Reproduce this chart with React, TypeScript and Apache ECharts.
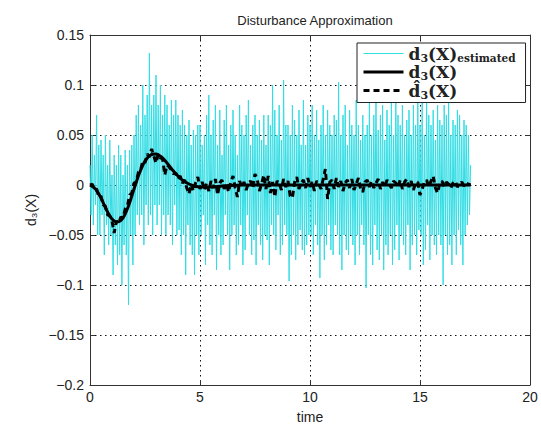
import React, { useEffect, useRef } from "react";
import * as echarts from "echarts";

// estimated disturbance, sampled every 0.05 s from 0 to 17.3 (one row = 1 s)
const estimated = [
  0.02, -0.03, 0.05, -0.04, 0.03, -0.02, 0.07, -0.05, 0.04, -0.05, 0.045, -0.03, 0.03, -0.07, 0.05, -0.04, 0.02, -0.06, 0.045, -0.05,
  0.01, -0.09, 0.03, -0.06, 0.02, -0.08, 0.04, -0.07, 0.03, -0.1, 0.01, -0.06, 0.035, -0.07, 0.02, -0.12, 0.035, -0.05, 0.04, -0.08,
  0.05, -0.05, 0.07, -0.03, 0.08, -0.04, 0.06, -0.03, 0.1, -0.06, 0.07, -0.02, 0.09, -0.04, 0.132, -0.03, 0.08, -0.05, 0.09, -0.02,
  0.11, -0.04, 0.08, -0.02, 0.1, -0.05, 0.07, -0.03, 0.09, -0.05, 0.08, -0.03, 0.06, -0.04, 0.085, -0.06, 0.07, -0.02, 0.085, -0.05,
  0.07, -0.045, 0.06, -0.07, 0.075, -0.05, 0.06, -0.09, 0.05, -0.04, 0.065, -0.06, 0.04, -0.07, 0.055, -0.09, 0.05, -0.05, 0.06, -0.07,
  0.06, -0.05, 0.04, -0.03, 0.05, -0.08, 0.07, -0.04, 0.09, -0.06, 0.05, -0.07, 0.065, -0.03, 0.08, -0.085, 0.04, -0.05, 0.075, -0.07,
  0.03, -0.06, 0.065, -0.03, 0.08, -0.05, 0.04, -0.085, 0.06, -0.05, 0.075, -0.04, 0.05, -0.07, 0.03, -0.06, 0.08, -0.04, 0.06, -0.08,
  0.05, -0.065, 0.07, -0.03, 0.085, -0.05, 0.04, -0.07, 0.06, -0.055, 0.07, -0.08, 0.05, -0.04, 0.065, -0.06, 0.045, -0.075, 0.07, -0.05,
  0.04, -0.055, 0.07, -0.08, 0.06, -0.04, 0.1, -0.05, 0.075, -0.065, 0.05, -0.03, 0.08, -0.07, 0.045, -0.06, 0.105, -0.04, 0.06, -0.05,
  0.06, -0.096, 0.05, -0.07, 0.08, -0.05, 0.065, -0.075, 0.05, -0.06, 0.075, -0.045, 0.04, -0.065, 0.085, -0.07, 0.04, -0.06, 0.07, -0.05,
  0.06, -0.05, 0.08, -0.07, 0.05, -0.04, 0.075, -0.06, 0.045, -0.093, 0.06, -0.05, 0.08, -0.075, 0.05, -0.06, 0.075, -0.04, 0.06, -0.065,
  0.05, -0.07, 0.07, -0.04, 0.065, -0.05, 0.103, -0.07, 0.05, -0.085, 0.07, -0.05, 0.08, -0.065, 0.04, -0.07, 0.075, -0.05, 0.06, -0.06,
  0.05, -0.08, 0.085, -0.05, 0.06, -0.07, 0.045, -0.04, 0.07, -0.06, 0.05, -0.103, 0.06, -0.05, 0.085, -0.07, 0.05, -0.08, 0.07, -0.04,
  0.09, -0.065, 0.055, -0.075, 0.07, -0.05, 0.08, -0.085, 0.045, -0.06, 0.075, -0.07, 0.06, -0.05, 0.085, -0.08, 0.05, -0.065, 0.09, -0.04,
  0.07, -0.075, 0.06, -0.05, 0.08, -0.06, 0.05, -0.07, 0.065, -0.04, 0.075, -0.085, 0.05, -0.06, 0.08, -0.05, 0.06, -0.07, 0.085, -0.045,
  0.06, -0.05, 0.085, -0.08, 0.05, -0.065, 0.09, -0.04, 0.07, -0.075, 0.06, -0.05, 0.075, -0.06, 0.045, -0.07, 0.08, -0.05, 0.065, -0.06,
  0.06, -0.1, 0.08, -0.05, 0.07, -0.07, 0.085, -0.06, 0.05, -0.08, 0.065, -0.05, 0.06, -0.07, 0.075, -0.045, 0.07, -0.06, 0.05, -0.08,
  0.065, -0.05, 0.06, -0.04, 0.05, -0.03, 0.02,
];
const estStep = 0.05;

// approximated disturbance, sampled every 0.1 s from 0 to 17.3
const hatValues = [
  0, 0.001, -0.004, -0.004, -0.012, -0.011, -0.02, -0.021, -0.03, -0.031,
  -0.036, -0.048, -0.036, -0.038, -0.032, -0.033, -0.024, -0.021, -0.01, -0.008,
  0.002, 0.003, 0.013, 0.015, 0.024, 0.022, 0.031, 0.028, 0.036, 0.029,
  0.022, 0.031, 0.027, 0.026, 0.01, 0.02, 0.018, 0.015, 0.011, 0.012,
  0.006, 0.009, 0.002, 0.005, -0.003, -0.009, 0.001, -0.006, 0.002, 0.008,
  -0.004, 0.003, -0.005, 0.002, -0.006, 0.004, -0.003, 0.006, -0.01, 0.002,
  0.005, -0.004, 0.001, -0.007, 0.003, 0.009, -0.003, -0.012, 0.004, -0.002,
  0.003, -0.005, 0.002, 0.004, -0.003, 0.011, 0.006, -0.006, 0.001, 0.01,
  -0.004, 0.009, -0.008, 0.003, -0.012, 0.004, 0.002, -0.005, 0.006, -0.002,
  0.004, -0.011, -0.013, 0.003, 0.008, -0.004, 0.002, 0.005, -0.003, 0.007,
  -0.002, 0.003, -0.006, 0.004, 0.001, -0.004, 0.006, 0.016, -0.014, 0.003,
  0.005, -0.004, 0.007, -0.002, 0.004, -0.006, 0.002, 0.005, -0.003, 0.006,
  -0.005, 0.001, 0.007, -0.004, -0.007, 0.003, 0.005, -0.002, 0.004, -0.003,
  0.002, 0.006, -0.004, 0.003, -0.002, 0.005, 0.001, -0.003, 0.004, 0.002,
  -0.002, 0.005, -0.004, 0.003, 0.006, -0.002, 0.004, -0.005, 0.002, 0.003,
  -0.01, -0.004, 0.003, 0.005, -0.002, 0.004, 0.009, -0.003, -0.008, 0.002,
  0.004, -0.002, 0.003, 0.001, -0.003, 0.002, 0.004, -0.002, 0.001, 0.003,
  -0.001, 0.002, 0.001, 0,
];
const hatStep = 0.1;

const trueTime = [
  0, 0.25, 0.5, 0.75, 1, 1.25, 1.5, 1.75, 2, 2.25, 2.5, 2.75, 3, 3.25, 3.5,
  3.75, 4, 4.25, 4.5, 4.75, 5, 5.5, 6, 7, 8, 10, 12, 14, 16, 17.3,
];
const trueValues = [
  0, -0.004, -0.013, -0.025, -0.034, -0.037, -0.033, -0.021, -0.004, 0.012,
  0.024, 0.03, 0.031, 0.028, 0.022, 0.015, 0.009, 0.004, 0.001, -0.001,
  -0.002, -0.002, -0.001, 0, 0, 0, 0, 0, 0, 0,
];

const xTicks = { min: 0, max: 20, interval: 5 };
const yTicks = { min: -0.2, max: 0.15, interval: 0.05 };

const FONT = "Liberation Sans";
const TEXT = "#222";
const CYAN = "#33dde4";
const SERIF = "DejaVu Serif";

export default function App() {
  const ref = useRef<HTMLDivElement>(null);
  useEffect(() => {
    if (!ref.current) return;
    const chart = echarts.init(ref.current, null, { renderer: "svg" });
    const frame = {
      axisLine: { show: true, onZero: false, lineStyle: { color: "#333", width: 1 } },
      axisTick: { show: true, inside: true, length: 5, lineStyle: { color: "#333" } },
    };
    const grid = { show: true, lineStyle: { color: "#111", width: 1, type: [1.5, 3.5] } };
    const legendNames: Record<string, string> = {
      est: "{b|d}{s|3}{b|(X)}{e|estimated}",
      true: "{b|d}{s|3}{b|(X)}",
      hat: "{b|d\u0302}{s|3}{b|(X)}",
    };
    const sub = {
      fontFamily: SERIF,
      fontWeight: "bold",
      color: TEXT,
      verticalAlign: "bottom",
      lineHeight: 11,
      padding: [6, 0, 0, 0],
    };
    chart.setOption({
      animation: false,
      backgroundColor: "#fff",
      title: {
        text: "Disturbance Approximation",
        left: 310,
        textAlign: "center",
        top: 9,
        textStyle: { fontFamily: FONT, fontSize: 13, fontWeight: "normal", color: TEXT },
      },
      grid: { left: 90, top: 35, right: 11, bottom: 42 },
      legend: {
        orient: "vertical",
        left: 357,
        top: 43,
        padding: [2, 10, 2, 5],
        itemGap: 0,
        itemWidth: 40,
        itemHeight: 16,
        backgroundColor: "#fff",
        borderColor: "#222",
        borderWidth: 1,
        borderRadius: 0,
        itemStyle: { color: "rgba(0,0,0,0)", borderWidth: 0, opacity: 0 },
        data: [
          { name: "est", lineStyle: { width: 1 } },
          { name: "true", lineStyle: { width: 3 } },
          { name: "hat", lineStyle: { width: 3 } },
        ],
        formatter: (n: string) => legendNames[n],
        textStyle: {
          color: TEXT,
          rich: {
            b: { fontFamily: SERIF, fontWeight: "bold", fontSize: 17, color: TEXT, lineHeight: 20 },
            s: { ...sub, fontSize: 11 },
            e: { ...sub, fontSize: 10.5 },
          },
        },
      },
      xAxis: [
        {
          type: "value",
          ...xTicks,
          position: "bottom",
          ...frame,
          splitLine: grid,
          axisLabel: { fontFamily: FONT, fontSize: 14, color: TEXT, margin: 5 },
          name: "time",
          nameLocation: "middle",
          nameGap: 25,
          nameTextStyle: { fontFamily: FONT, fontSize: 14, color: TEXT },
        },
        { type: "value", ...xTicks, position: "top", ...frame, splitLine: { show: false }, axisLabel: { show: false } },
      ],
      yAxis: [
        {
          type: "value",
          ...yTicks,
          position: "left",
          ...frame,
          splitLine: grid,
          axisLabel: {
            fontFamily: FONT,
            fontSize: 14,
            color: TEXT,
            margin: 6,
            formatter: (v: number) => String(parseFloat(v.toFixed(2))).replace("-", "\u2212"),
          },
          name: "d\u2083(X)",
          nameLocation: "middle",
          nameGap: 52,
          nameTextStyle: { fontFamily: FONT, fontSize: 14, color: TEXT },
        },
        { type: "value", ...yTicks, position: "right", ...frame, splitLine: { show: false }, axisLabel: { show: false } },
      ],
      series: [
        {
          name: "est",
          type: "line",
          data: estimated.map((v, i) => [+(i * estStep).toFixed(2), v]),
          symbol: "none",
          lineStyle: { color: CYAN, width: 1 },
          itemStyle: { color: CYAN },
          z: 2,
        },
        {
          name: "true",
          type: "line",
          data: trueTime.map((t, i) => [t, trueValues[i]]),
          symbol: "none",
          smooth: 0.3,
          lineStyle: { color: "#000", width: 3 },
          itemStyle: { color: "#000" },
          z: 3,
        },
        {
          name: "hat",
          type: "line",
          data: hatValues.map((v, i) => [+(i * hatStep).toFixed(1), v]),
          symbol: "none",
          lineStyle: { color: "#000", width: 3, type: [6, 4] },
          itemStyle: { color: "#000" },
          z: 4,
        },
      ],
    });
    return () => chart.dispose();
  }, []);
  return <div ref={ref} style={{ position: "absolute", left: 0, top: 0, width: 541, height: 429 }} />;
}
